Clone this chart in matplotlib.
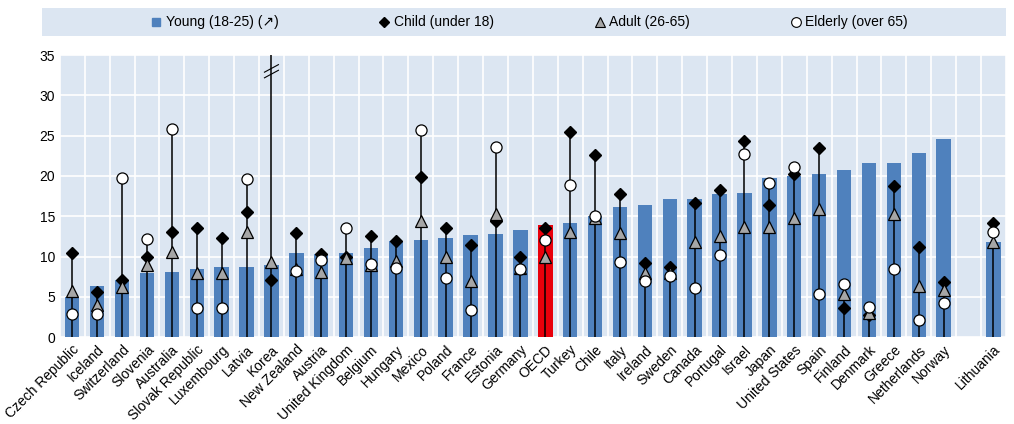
import numpy as np
import matplotlib
matplotlib.use("Agg")
import matplotlib.pyplot as plt
from matplotlib.lines import Line2D
from matplotlib.patches import Rectangle

plt.rcParams['font.family'] = ['Liberation Sans', 'DejaVu Sans']

# poverty rates by age group, %
COUNTRIES = ["Czech Republic", "Iceland", "Switzerland", "Slovenia", "Australia",
             "Slovak Republic", "Luxembourg", "Latvia", "Korea", "New Zealand",
             "Austria", "United Kingdom", "Belgium", "Hungary", "Mexico", "Poland",
             "France", "Estonia", "Germany", "OECD", "Turkey", "Chile", "Italy",
             "Ireland", "Sweden", "Canada", "Portugal", "Israel", "Japan",
             "United States", "Spain", "Finland", "Denmark", "Greece",
             "Netherlands", "Norway", "Lithuania"]
YOUNG = [5.0, 6.4, 7.1, 8.0, 8.1, 8.4, 8.65, 8.65, 9.0, 10.4,
         10.3, 10.4, 11.1, 11.9, 12.1, 12.3, 12.7, 12.8, 13.3, 13.9,
         14.2, 15.0, 16.1, 16.4, 17.1, 17.2, 17.8, 17.9, 19.8, 20.0,
         20.2, 20.7, 21.6, 21.6, 22.9, 24.6, 11.85]
CHILD = [10.4, 5.6, 7.1, 9.9, 13.1, 13.5, 12.35, 15.5, 7.1, 12.9,
         10.3, 9.9, 12.5, 11.9, 19.9, 13.5, 11.4, 14.35, 10.0, 13.5,
         25.4, 22.6, 17.8, 9.2, 8.7, 16.6, 18.3, 24.4, 16.35, 20.3,
         23.5, 3.65, 2.7, 18.8, 11.2, 6.85, 14.1]
ADULT = [5.7, 4.0, 6.2, 8.9, 10.6, 7.9, 7.9, 13.0, 9.3, 8.4,
         8.1, 9.8, 9.0, 9.5, 14.4, 10.0, 7.0, 15.3, 8.6, 9.9,
         13.0, 14.8, 12.9, 7.9, 7.9, 11.85, 12.5, 13.7, 13.7, 14.8,
         15.9, 5.4, 3.0, 15.3, 6.4, 5.8, 11.8]
ELDERLY = [2.9, 2.9, 19.8, 12.2, 25.8, 3.6, 3.6, 19.6, 45.7, 8.2,
           9.6, 13.5, 9.1, 8.6, 25.7, 7.3, 3.4, 23.6, 8.4, 12.1,
           18.9, 15.0, 9.35, 7.0, 7.6, 6.15, 10.15, 22.7, 19.1, 21.1,
           5.4, 6.6, 3.7, 8.5, 2.1, 4.2, 13.0]

HIGHLIGHT = "OECD"
GAP_BEFORE = "Lithuania"
Y_MAX = 35
BREAK_AT = 33

BLUE = "#4f81bd"
RED = "#e8000b"
BG = "#dce6f2"

# positions with an empty slot before Lithuania
x = np.arange(len(COUNTRIES), dtype=float)
x[COUNTRIES.index(GAP_BEFORE):] += 1

fig = plt.figure(figsize=(10.14, 4.24), dpi=100)
ax = fig.add_axes([0.059, 0.205, 0.933, 0.665])
ax.set_facecolor(BG)

colors = [RED if c == HIGHLIGHT else BLUE for c in COUNTRIES]
ax.bar(x, YOUNG, width=0.58, color=colors, zorder=2)

tops = np.maximum(np.maximum(CHILD, ADULT), ELDERLY)
ax.vlines(x, 0, tops, color="black", lw=1.1, zorder=3)

ax.plot(x, CHILD, ls="none", marker="D", ms=6.5, mfc="black", mec="black", zorder=4)
ax.plot(x, ADULT, ls="none", marker="^", ms=8, mfc="#a6a6a6", mec="black", mew=0.9, zorder=5)
ax.plot(x, ELDERLY, ls="none", marker="o", ms=8, mfc="white", mec="black", mew=0.9, zorder=6)

# break mark on clipped values
for xi, v in zip(x, ELDERLY):
    if v > Y_MAX:
        for dy in (-0.35, 0.35):
            ax.plot([xi - 0.3, xi + 0.3], [BREAK_AT - 0.5 + dy, BREAK_AT + 0.5 + dy],
                    color="black", lw=0.8, zorder=7, solid_capstyle="butt")

ax.set_xlim(-0.5, x[-1] + 0.5)
ax.set_ylim(0, Y_MAX)
ax.set_yticks(range(0, Y_MAX + 1, 5))
ax.set_xticks(x)
ax.set_xticklabels(COUNTRIES, rotation=45, ha="right", rotation_mode="anchor", fontsize=10)
ax.set_xticks(np.arange(-0.5, x[-1] + 1, 1), minor=True)
ax.tick_params(axis="both", which="both", length=0, labelsize=10)
ax.tick_params(axis="x", pad=4)
ax.grid(axis="y", color="white", lw=1.2, zorder=1)
ax.grid(axis="x", which="minor", color="white", lw=1.2, zorder=1)
ax.grid(axis="x", which="major", visible=False)
for s in ax.spines.values():
    s.set_visible(False)

# legend band on top
fig.patches.append(Rectangle((0.041, 0.915), 0.951, 0.065, transform=fig.transFigure,
                             facecolor=BG, edgecolor="none"))
handles = [
    Line2D([], [], ls="none", marker="s", ms=6, mfc=BLUE, mec=BLUE),
    Line2D([], [], ls="none", marker="D", ms=5.5, mfc="black", mec="black"),
    Line2D([], [], ls="none", marker="^", ms=7, mfc="#a6a6a6", mec="black", mew=0.8),
    Line2D([], [], ls="none", marker="o", ms=7, mfc="white", mec="black", mew=0.8),
]
labels = ["Young (18-25) (\u2197)", "Child (under 18)", "Adult (26-65)", "Elderly (over 65)"]
fig.legend(handles, labels, loc="center", bbox_to_anchor=(0.522, 0.947), ncol=4,
           frameon=False, fontsize=10, handlelength=0.8, handletextpad=0.3,
           columnspacing=7.2)

fig.savefig("out.png", dpi=100)
